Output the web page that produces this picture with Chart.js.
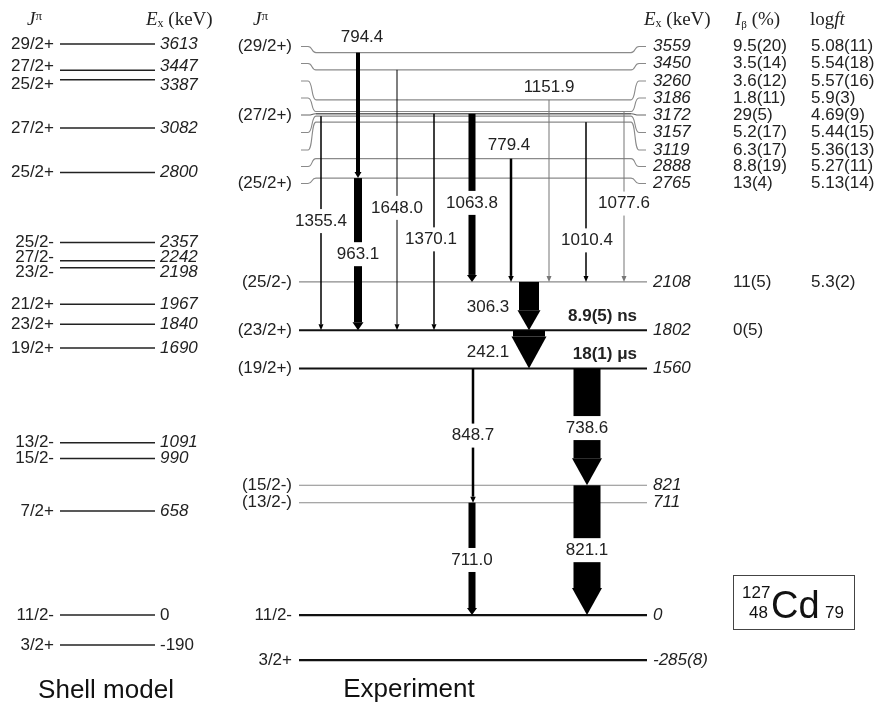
<!DOCTYPE html>
<html>
<head>
<meta charset="utf-8">
<script src="https://cdn.jsdelivr.net/npm/chart.js@4.4.1/dist/chart.umd.min.js"></script>
<style>
  html, body { margin: 0; padding: 0; background: #fff; }
  #wrap { width: 879px; height: 704px; position: relative; }
</style>
</head>
<body>
<div id="wrap"><canvas id="scheme"></canvas></div>
<script>
// shell model levels
const shellEnergies = [3613, 3447, 3387, 3082, 2800, 2357, 2242, 2198, 1967, 1840, 1690, 1091, 990, 658, 0, -190];
const shellSpins = ['29/2+', '27/2+', '25/2+', '27/2+', '25/2+', '25/2-', '27/2-', '23/2-', '21/2+', '23/2+', '19/2+', '13/2-', '15/2-', '7/2+', '11/2-', '3/2+'];

// experimental levels
const expEnergies = [3559, 3450, 3260, 3186, 3172, 3157, 3119, 2888, 2765, 2108, 1802, 1560, 821, 711, 0, -285];
const expLabels = ['3559', '3450', '3260', '3186', '3172', '3157', '3119', '2888', '2765', '2108', '1802', '1560', '821', '711', '0', '-285(8)'];
const expSpins = ['(29/2+)', '', '', '', '(27/2+)', '', '', '', '(25/2+)', '(25/2-)', '(23/2+)', '(19/2+)', '(15/2-)', '(13/2-)', '11/2-', '3/2+'];
const betaFeeding = ['9.5(20)', '3.5(14)', '3.6(12)', '1.8(11)', '29(5)', '5.2(17)', '6.3(17)', '8.8(19)', '13(4)', '11(5)', '0(5)', '', '', '', '', ''];
const logFt = ['5.08(11)', '5.54(18)', '5.57(16)', '5.9(3)', '4.69(9)', '5.44(15)', '5.36(13)', '5.27(11)', '5.13(14)', '5.3(2)', '', '', '', '', '', ''];

// gamma transitions
const gammaEnergies = [794.4, 963.1, 1355.4, 1648.0, 1370.1, 1063.8, 779.4, 1151.9, 1010.4, 1077.6, 306.3, 242.1, 848.7, 738.6, 711.0, 821.1];
const gammaFrom = [3559, 2765, 3157, 3450, 3172, 3172, 2888, 3260, 3119, 3186, 2108, 1802, 1560, 1560, 711, 821];
const gammaTo = [2765, 1802, 1802, 1802, 1802, 2108, 2108, 2108, 2108, 2108, 1802, 1560, 711, 821, 0, 0];
const gammaIntensity = [4, 8, 1.5, 1, 1.5, 7, 2.5, 1, 1.5, 1, 20, 32, 2.5, 27, 7, 27];

// isomers
const isomerLevels = [1802, 1560];
const halfLives = ['8.9(5) ns', '18(1) μs'];

// ---- layout (pixels) ----
const SANS = "'Liberation Sans', Arial, sans-serif";
const SERIF = "'Liberation Serif', 'Times New Roman', serif";
const gammaX = [358, 358, 321, 397, 434, 472, 511, 549, 586, 624, 529, 529, 473, 587, 472, 587];
// label placement: fraction along arrow, or negative = pixels above start
const gammaLabelT = [-15, 0.5, 0.49, 0.53, 0.58, 0.53, -13, -13, 0.74, 0.54, 0.52, 0.57, 0.5, 0.51, 0.51, 0.5];
const gammaLabelDx = [4, 0, 0, 0, -3, 0, -2, 0, 1, 0, -41, -41, 0, 0, 0, 0];
const gammaGray = [false, false, false, false, false, false, false, true, false, true, false, false, false, false, false, false];
const labelRows = [46.5, 63.5, 81, 98, 115, 132.5, 150, 166.5, 183.5];
const shellLabelShift = [0, -4, 5, 0, 0, 0, -3, 5, 0, 0, 0, 0, 0, 0, 0, 0];
const thickLevels = [1802, 1560, 0, -285];

const datasets = [];
shellEnergies.forEach(e => datasets.push({
  data: [{ x: 60, y: e }, { x: 155, y: e }],
  showLine: true, borderColor: '#222', borderWidth: 1.5, pointRadius: 0
}));
expEnergies.forEach((e, i) => {
  const bent = i < labelRows.length;
  const thick = thickLevels.includes(e);
  datasets.push({
    data: bent ? [{ x: 316, y: e }, { x: 631, y: e }] : [{ x: 299, y: e }, { x: 647, y: e }],
    showLine: true,
    borderColor: thick ? '#111' : (e === 3172 ? '#666' : '#8a8a8a'),
    borderWidth: thick ? 2.2 : (e === 3172 ? 1.4 : 1.1),
    pointRadius: 0
  });
});

function rich(ctx, parts, x, y, align) {
  let w = 0;
  parts.forEach(p => { ctx.font = p[1]; w += ctx.measureText(p[0]).width; });
  let cx = align === 'right' ? x - w : (align === 'center' ? x - w / 2 : x);
  ctx.textAlign = 'left';
  parts.forEach(p => {
    ctx.font = p[1];
    ctx.fillText(p[0], cx, y + (p[2] || 0));
    cx += ctx.measureText(p[0]).width;
  });
}

const schemePlugin = {
  id: 'scheme',
  afterDatasetsDraw(chart) {
    const ctx = chart.ctx;
    const xs = chart.scales.x, ys = chart.scales.y;
    const Y = e => ys.getPixelForValue(e);
    const X = v => xs.getPixelForValue(v);
    ctx.save();

    // bent connectors of the upper levels
    labelRows.forEach((ry, i) => {
      const ly = Y(expEnergies[i]);
      ctx.strokeStyle = i === 4 ? '#666' : '#8a8a8a';
      ctx.lineWidth = 1.1;
      ctx.beginPath();
      ctx.moveTo(X(301), ry); ctx.lineTo(X(308), ry);
      ctx.bezierCurveTo(X(313), ry, X(311), ly, X(316), ly);
      ctx.moveTo(X(631), ly);
      ctx.bezierCurveTo(X(636), ly, X(634), ry, X(639), ry);
      ctx.lineTo(X(646), ry);
      ctx.stroke();
    });

    // transitions
    gammaEnergies.forEach((g, i) => {
      const x = X(gammaX[i]);
      const y0 = Y(gammaFrom[i]), y1 = Y(gammaTo[i]);
      const w = gammaIntensity[i];
      const col = gammaGray[i] ? '#777' : '#000';
      const hl = Math.max(w, 6), hw = Math.max(w + 3, 5);
      ctx.fillStyle = col;
      ctx.fillRect(x - w / 2, y0, w, (y1 - hl) - y0);
      ctx.beginPath();
      ctx.moveTo(x - hw / 2, y1 - hl);
      ctx.lineTo(x + hw / 2, y1 - hl);
      ctx.lineTo(x, y1);
      ctx.closePath();
      ctx.fill();
    });

    // gamma labels
    ctx.textBaseline = 'middle';
    ctx.font = '17px ' + SANS;
    gammaEnergies.forEach((g, i) => {
      const y0 = Y(gammaFrom[i]), y1 = Y(gammaTo[i]);
      const t = gammaLabelT[i];
      const ly = t < 0 ? y0 + t : y0 + (y1 - y0) * t;
      const lx = X(gammaX[i] + gammaLabelDx[i]);
      const txt = g.toFixed(1);
      const tw = ctx.measureText(txt).width;
      if (gammaLabelDx[i] > -20) {
        ctx.fillStyle = '#fff';
        ctx.fillRect(lx - tw / 2 - 2, ly - 12, tw + 4, 24);
      }
      ctx.fillStyle = '#222';
      ctx.textAlign = 'center';
      ctx.fillText(txt, lx, ly);
    });

    // shell model labels
    ctx.fillStyle = '#222';
    shellEnergies.forEach((e, i) => {
      const y = Y(e) + shellLabelShift[i];
      ctx.font = '17px ' + SANS;
      ctx.textAlign = 'right';
      ctx.fillText(shellSpins[i], X(54), y);
      ctx.textAlign = 'left';
      ctx.font = (e > 0 ? 'italic ' : '') + '17px ' + SANS;
      ctx.fillText(String(e), X(160), y);
    });

    // experiment labels
    expEnergies.forEach((e, i) => {
      const y = i < labelRows.length ? labelRows[i] : Y(e);
      ctx.font = '17px ' + SANS;
      ctx.textAlign = 'right';
      if (expSpins[i]) ctx.fillText(expSpins[i], X(292), y);
      ctx.textAlign = 'left';
      ctx.font = 'italic 17px ' + SANS;
      ctx.fillText(expLabels[i], X(653), y);
      ctx.font = '17px ' + SANS;
      if (betaFeeding[i]) ctx.fillText(betaFeeding[i], X(733), y);
      if (logFt[i]) ctx.fillText(logFt[i], X(811), y);
    });

    // half-lives
    ctx.font = 'bold 17px ' + SANS;
    ctx.textAlign = 'right';
    isomerLevels.forEach((e, i) => ctx.fillText(halfLives[i], X(637), Y(e) - 14));

    // headers
    ctx.textBaseline = 'alphabetic';
    const hb = 25;
    rich(ctx, [['J', 'italic 19px ' + SERIF], ['π', '13px ' + SERIF, -5]], X(27), hb, 'left');
    rich(ctx, [['J', 'italic 19px ' + SERIF], ['π', '13px ' + SERIF, -5]], X(253), hb, 'left');
    rich(ctx, [['E', 'italic 19px ' + SERIF], ['x', '12px ' + SERIF, 2], [' (keV)', '19px ' + SERIF]], X(146), hb, 'left');
    rich(ctx, [['E', 'italic 19px ' + SERIF], ['x', '12px ' + SERIF, 2], [' (keV)', '19px ' + SERIF]], X(644), hb, 'left');
    rich(ctx, [['I', 'italic 19px ' + SERIF], ['β', '11px ' + SERIF, 3], [' (%)', '19px ' + SERIF]], X(735), hb, 'left');
    rich(ctx, [['log', '19px ' + SERIF], ['ft', 'italic 19px ' + SERIF]], X(810), hb, 'left');

    // bottom titles
    ctx.fillStyle = '#111';
    ctx.font = '26px ' + SANS;
    ctx.textAlign = 'center';
    ctx.fillText('Shell model', X(106), 698);
    ctx.fillText('Experiment', X(409), 697);

    // nucleus box
    ctx.strokeStyle = '#444';
    ctx.lineWidth = 1;
    ctx.strokeRect(733.5, 575.5, 121, 54);
    ctx.fillStyle = '#111';
    ctx.font = '17px ' + SANS;
    ctx.textAlign = 'left';
    ctx.fillText('127', 742, 598);
    ctx.textAlign = 'right';
    ctx.fillText('48', 768, 618);
    ctx.textAlign = 'left';
    ctx.fillText('79', 825, 618);
    ctx.font = '38px ' + SANS;
    ctx.fillText('Cd', 771, 618);

    ctx.restore();
  }
};

new Chart(document.getElementById('scheme'), {
  type: 'scatter',
  data: { datasets: datasets },
  options: {
    responsive: true,
    maintainAspectRatio: false,
    animation: false,
    layout: { padding: 0 },
    plugins: { legend: { display: false }, tooltip: { enabled: false } },
    scales: {
      x: { type: 'linear', min: 0, max: 879, display: false },
      y: { type: 'linear', min: -563, max: 3892, display: false }
    }
  },
  plugins: [schemePlugin]
});
</script>
</body>
</html>
